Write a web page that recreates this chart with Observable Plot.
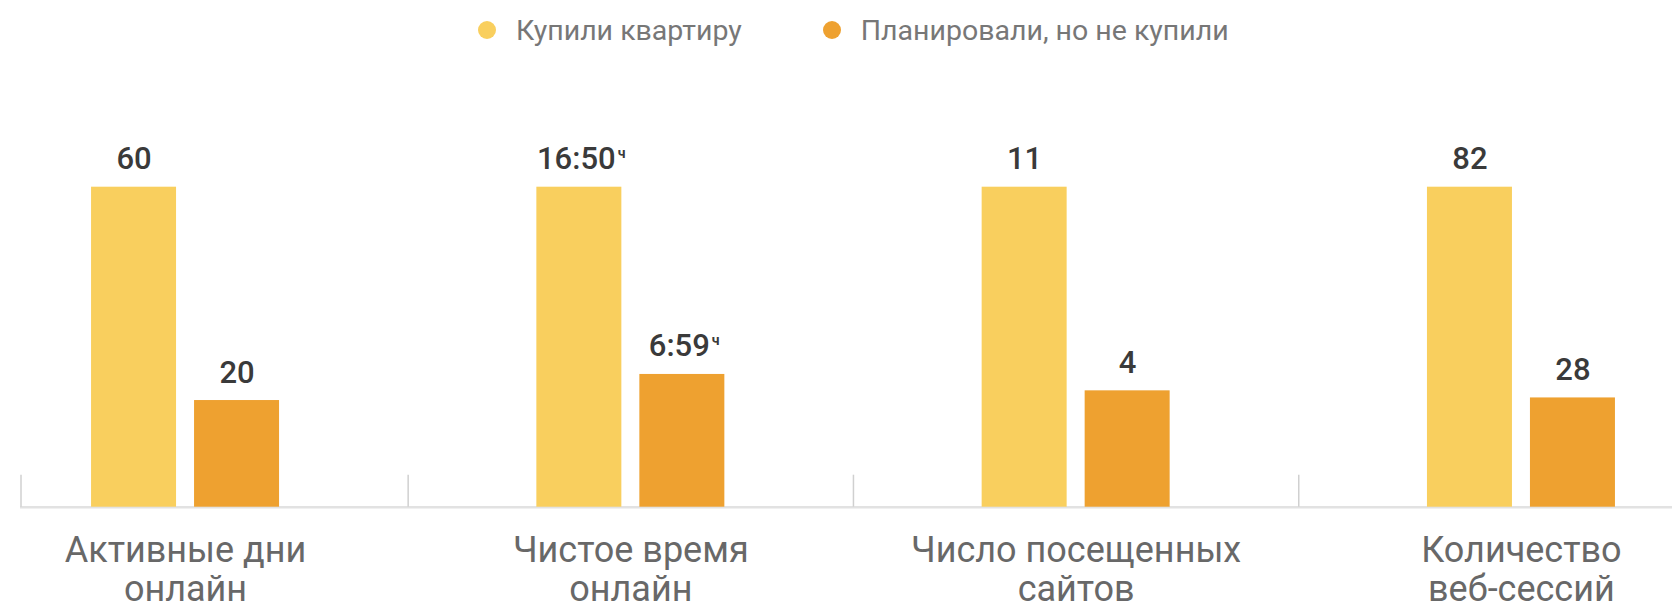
<!DOCTYPE html>
<html>
<head>
<meta charset="utf-8">
<script src="https://cdn.jsdelivr.net/npm/d3@7"></script>
<script src="https://cdn.jsdelivr.net/npm/@observablehq/plot@0.6"></script>
<style>
  html, body { margin: 0; padding: 0; background: #fff; }
  body { width: 1672px; height: 610px; overflow: hidden; font-family: Roboto, "Noto Sans", sans-serif; }
  #legend { position: relative; height: 60px; width: 1672px; display: flex; align-items: center; padding-left: 478px; box-sizing: border-box; }
  .item { display: flex; align-items: center; margin-right: 81px; font-size: 28.5px; color: #777; }
  .dot { width: 18px; height: 18px; border-radius: 50%; margin-right: 20px; }
  #chart svg { display: block; }
</style>
</head>
<body>
<div id="legend"></div>
<div id="chart"></div>
<script>
// ---- data ----
const groups = ["Активные дни\nонлайн", "Чистое время\nонлайн", "Число посещенных\nсайтов", "Количество\nвеб-сессий"];
const series = ["Купили квартиру", "Планировали, но не купили"];
const colors = ["#f9cf5e", "#eea130"];
// values; time metric stored in minutes (16:50 h, 6:59 h)
const bought  = [60, 1010, 11, 82];
const planned = [20, 419, 4, 28];
const units   = ["", "ч", "", ""];

// ---- derived table ----
const fmt = (v, unit) => unit ? `${Math.floor(v / 60)}:${String(v % 60).padStart(2, "0")}` : String(v);
const rows = groups.flatMap((g, i) => [
  {group: g, series: series[0], side: 0, value: bought[i],  share: 1,                    label: fmt(bought[i], units[i]),  unit: units[i]},
  {group: g, series: series[1], side: 1, value: planned[i], share: planned[i] / bought[i], label: fmt(planned[i], units[i]), unit: units[i]}
]);

// ---- legend ----
const legend = document.getElementById("legend");
series.forEach((s, i) => {
  const it = document.createElement("div");
  it.className = "item";
  it.innerHTML = `<span class="dot" style="background:${colors[i]}"></span><span>${s}</span>`;
  legend.appendChild(it);
});

// ---- layout styling ----
const W = 1672, H = 550;
const step = 445.3;
const xRange = [185 - step / 2, 185 + step * 3.5];
const sideDx = [-51.5, 51.5];
const insets = [[128.7, 231.6], [231.7, 128.6]];
const labelFont = "500 31px Roboto";
const ctx = document.createElement("canvas").getContext("2d");
ctx.font = labelFont;
const textW = s => ctx.measureText(s).width;

const labelMarks = rows.flatMap(r => {
  const shift = r.unit ? -3 : 0;
  const dx = sideDx[r.side] + shift;
  const m = [Plot.text([r], {
    x: "group", y: "share", text: "label", dx, dy: -18, lineAnchor: "bottom",
    fontSize: 31, fontWeight: 500, fill: "#3a3a3a"
  })];
  if (r.unit) {
    m.push(Plot.text([r], {
      x: "group", y: "share", text: "unit", dx: dx + textW(r.label) / 2 + 2, dy: -29,
      lineAnchor: "bottom", textAnchor: "start", fontSize: 14, fontWeight: 700, fill: "#3a3a3a"
    }));
  }
  return m;
});

const chart = Plot.plot({
  width: W,
  height: H,
  marginLeft: 20,
  marginRight: 0,
  marginTop: 0,
  marginBottom: 0,
  style: {fontFamily: "Roboto, 'Noto Sans', sans-serif", background: "#fff", overflow: "hidden"},
  x: {type: "band", domain: groups, range: xRange, padding: 0, round: false, axis: null},
  y: {domain: [0, 1], range: [446.7, 126.7], axis: null},
  color: {domain: series, range: colors},
  marks: [
    Plot.ruleY([0], {stroke: "#e2e2e2", strokeWidth: 2.5}),
    Plot.ruleX(groups.slice(1), {x: d => d, dx: -step / 2, y1: 0, y2: 0.1, stroke: "#d0d0d0", strokeWidth: 1.5}),
    Plot.ruleX(groups.slice(0, 1), {x: d => d, dx: 20.5 - 185, y1: 0, y2: 0.1, stroke: "#d0d0d0", strokeWidth: 1.5}),
    ...[0, 1].map(s => Plot.barY(rows.filter(d => d.side === s), {
      x: "group", y: "share", fill: "series", insetLeft: insets[s][0], insetRight: insets[s][1]
    })),
    ...labelMarks,
    Plot.text(groups, {
      x: d => d, y: () => 0, text: d => d, dy: 26.7, lineAnchor: "top",
      fontSize: 36, lineHeight: 39 / 36, fill: "#686868"
    })
  ]
});
document.getElementById("chart").appendChild(chart);
</script>
</body>
</html>
